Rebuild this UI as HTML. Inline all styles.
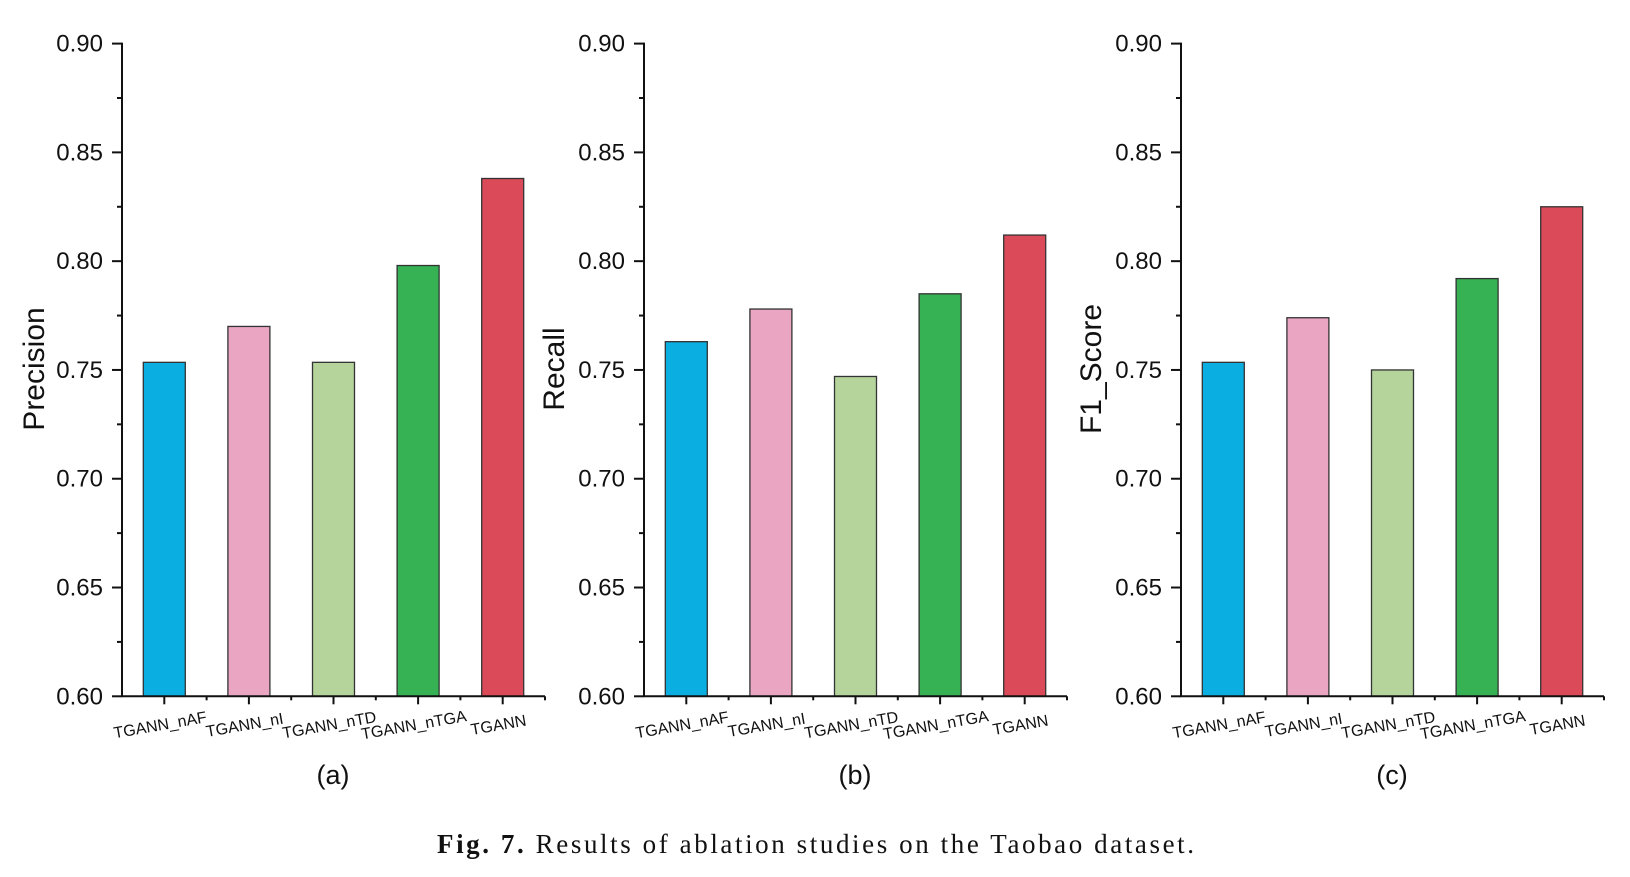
<!DOCTYPE html>
<html><head><meta charset="utf-8"><style>
html,body{margin:0;padding:0;background:#fff;width:1630px;height:877px;overflow:hidden}
svg{display:block}
text{font-family:"Liberation Sans",Arial,sans-serif;fill:#111}
</style></head><body>
<svg id="fig" width="1630" height="877" viewBox="0 0 1630 877">
<text x="437" y="853" font-size="27" textLength="757" lengthAdjust="spacing" style="font-family:'Liberation Serif',serif"><tspan font-weight="bold">Fig. 7.</tspan>  Results of ablation studies on the Taobao dataset.</text>
</svg>
<script>
const categories = ["TGANN_nAF","TGANN_nI","TGANN_nTD","TGANN_nTGA","TGANN"];
const precisionValues = [0.7535, 0.770, 0.7535, 0.798, 0.838];
const recallValues = [0.763, 0.778, 0.747, 0.785, 0.812];
const f1Values = [0.7535, 0.774, 0.750, 0.792, 0.825];
const yTicks = [0.60, 0.65, 0.70, 0.75, 0.80, 0.85, 0.90];
const yTickLabels = ["0.60","0.65","0.70","0.75","0.80","0.85","0.90"];
const barColors = ["#0aaee0","#e9a5c2","#b4d49c","#36b154","#db4a59"];

const NS = "http://www.w3.org/2000/svg";
const svg = document.getElementById('fig');
function mk(tag, attrs, parent){ const e=document.createElementNS(NS,tag); for(const k in attrs) e.setAttribute(k,attrs[k]); (parent||svg).appendChild(e); return e; }

const panels = [
  {x0:122, title:"Precision", tx:34, label:"(a)", vals:precisionValues, key:"precision"},
  {x0:644, title:"Recall", tx:554, label:"(b)", vals:recallValues, key:"recall"},
  {x0:1181, title:"F1_Score", tx:1091, label:"(c)", vals:f1Values, key:"f1"}
];
const yTop=43.6, yBot=696.3, yMin=0.6, yMax=0.9, axW=423;

panels.forEach(p=>{
  const g = mk('g',{});
  
  
  const yS = v => yBot - (v-yMin)/(yMax-yMin)*(yBot-yTop);
  const step = axW/categories.length;
  const xS = i => p.x0 + step*(i+0.5);
  p.vals.forEach((v,i)=>{
    const r = mk('rect',{x:xS(i)-21,y:yS(v),width:42,height:yBot-yS(v),fill:barColors[i],stroke:'#333','stroke-width':1.3},g);
    
    
  });
  const ya = mk('line',{x1:p.x0,y1:yTop-1,x2:p.x0,y2:yBot,stroke:'#111','stroke-width':2},g);
  
  
  const xa = mk('line',{x1:p.x0-1,y1:yBot,x2:p.x0+axW,y2:yBot,stroke:'#111','stroke-width':2},g);
  
  
  mk('line',{x1:p.x0+axW,y1:yBot,x2:p.x0+axW,y2:yBot+4,stroke:'#111','stroke-width':2},g);
  yTicks.forEach((t,i)=>{
    const y=yS(t);
    mk('line',{x1:p.x0-10,y1:y,x2:p.x0,y2:y,stroke:'#111','stroke-width':2},g);
    if(i<yTicks.length-1){ const ym=yS(t+0.025); mk('line',{x1:p.x0-5,y1:ym,x2:p.x0,y2:ym,stroke:'#111','stroke-width':2},g); }
    const tl = mk('text',{x:p.x0-19,y:y+8,'text-anchor':'end','font-size':24},g);
    tl.textContent = yTickLabels[i];
    
    
  });
  categories.forEach((c,i)=>{
    const x=xS(i);
    mk('line',{x1:x,y1:yBot,x2:x,y2:yBot+8,stroke:'#111','stroke-width':2},g);
    if(i<categories.length-1) mk('line',{x1:x+step/2,y1:yBot,x2:x+step/2,y2:yBot+4,stroke:'#111','stroke-width':2},g);
    const cl = mk('text',{x:x-4,y:yBot+34,'text-anchor':'middle','font-size':16,transform:`rotate(-10 ${x-4} ${yBot+30})`},g);
    cl.textContent = c;
    
    
  });
  const at = mk('text',{x:p.tx,y:369,'text-anchor':'middle','font-size':30,transform:`rotate(-90 ${p.tx} 369)`,dy:10},g);
  at.textContent = p.title;
  
  
  const pl = mk('text',{x:p.x0+211,y:784,'text-anchor':'middle','font-size':27},g);
  pl.textContent = p.label;
  
  
});
</script>
</body></html>
